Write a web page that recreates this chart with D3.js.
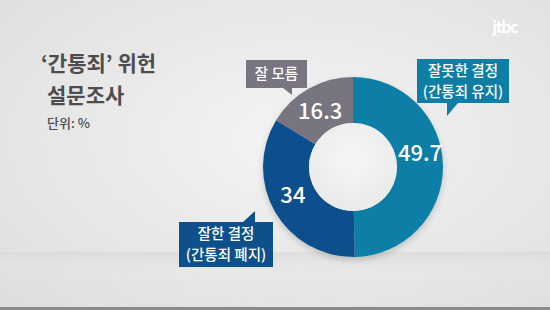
<!DOCTYPE html>
<html>
<head>
<meta charset="utf-8">
<script src="https://cdn.jsdelivr.net/npm/d3@7"></script>
<style>
  body { margin: 0; background: #e8e8e8; }
  svg { display: block; font-family: "Noto Sans CJK KR", "Noto Sans", sans-serif; }
</style>
</head>
<body>
<svg id="chart"></svg>
<script>
// survey result values (%), clockwise from 12 o'clock
const categories = ["잘못한 결정 (간통죄 유지)", "잘한 결정 (간통죄 폐지)", "잘 모름"];
const values = [49.7, 34, 16.3];
const valueLabels = ["49.7", "34", "16.3"];
const calloutLines = [
  ["잘못한 결정", "(간통죄 유지)"],
  ["잘한 결정", "(간통죄 폐지)"],
  ["잘 모름"]
];
const colors = ["#0e7ea5", "#0d508c", "#787480"];
const titleLines = ["‘간통죄’ 위헌", "설문조사"];
const unitLabel = "단위: %";

const width = 550;
const height = 310;
const cx = 353;
const cy = 167;
const outerR = 90;
const innerR = 44;

const svg = d3.select("#chart").attr("width", width).attr("height", height);
const defs = svg.append("defs");

// studio-like grey backdrop
const bg = defs.append("radialGradient").attr("id", "bg")
  .attr("cx", "55%").attr("cy", "45%").attr("r", "75%");
bg.append("stop").attr("offset", "0%").attr("stop-color", "#f4f4f4");
bg.append("stop").attr("offset", "100%").attr("stop-color", "#dedede");
svg.append("rect").attr("width", width).attr("height", height).attr("fill", "url(#bg)");

const floor = defs.append("linearGradient").attr("id", "floor")
  .attr("x1", 0).attr("y1", 0).attr("x2", 0).attr("y2", 1);
floor.append("stop").attr("offset", "0%").attr("stop-color", "#d8d8d8").attr("stop-opacity", 0.7);
floor.append("stop").attr("offset", "100%").attr("stop-color", "#f0f0f0").attr("stop-opacity", 0);
svg.append("rect").attr("x", 0).attr("y", 252).attr("width", width).attr("height", 30)
  .attr("fill", "url(#floor)");
svg.append("rect").attr("x", 0).attr("y", 307).attr("width", width).attr("height", 3)
  .attr("fill", "#8a8a8a");

const shadow = defs.append("filter").attr("id", "shadow")
  .attr("x", "-20%").attr("y", "-20%").attr("width", "140%").attr("height", "140%");
shadow.append("feDropShadow").attr("dx", 0).attr("dy", 3).attr("stdDeviation", 3)
  .attr("flood-color", "#000").attr("flood-opacity", 0.18);

// title block
const title = svg.append("g").attr("fill", "#4d4d4d");
title.append("text").attr("x", 41).attr("y", 71).attr("font-size", 21).attr("font-weight", 700)
  .text(titleLines[0]);
title.append("text").attr("x", 47).attr("y", 103).attr("font-size", 21).attr("font-weight", 700)
  .text(titleLines[1]);
title.append("text").attr("x", 47).attr("y", 128).attr("font-size", 13).attr("font-weight", 500)
  .text(unitLabel);

// jtbc mark
svg.append("text").attr("x", 505).attr("y", 33).attr("text-anchor", "middle")
  .attr("font-family", "Lato, 'DejaVu Sans', sans-serif").attr("font-weight", 900)
  .attr("font-size", 17).attr("fill", "#fff").attr("letter-spacing", -1).text("jtbc");

// donut
const pie = d3.pie().sort(null).value((d) => d);
const arcs = pie(values);
const arc = d3.arc().innerRadius(innerR).outerRadius(outerR);

const donut = svg.append("g").attr("transform", `translate(${cx},${cy})`);
donut.append("g").attr("filter", "url(#shadow)")
  .selectAll("path")
  .data(arcs)
  .join("path")
  .attr("d", arc)
  .attr("fill", (d, i) => colors[i]);

const hole = defs.append("radialGradient").attr("id", "hole")
  .attr("cx", "50%").attr("cy", "40%").attr("r", "60%");
hole.append("stop").attr("offset", "0%").attr("stop-color", "#f6f6f6");
hole.append("stop").attr("offset", "100%").attr("stop-color", "#eaeaea");
donut.append("circle").attr("r", innerR).attr("fill", "url(#hole)");

// value labels sit at the arc centroid, nudged a little as in the source
const labelArc = d3.arc().innerRadius(67).outerRadius(67);
const nudges = [[0, -13], [-2, -5], [0, 2]];
donut.selectAll("text.value")
  .data(arcs)
  .join("text")
  .attr("class", "value")
  .attr("transform", (d, i) => {
    const [x, y] = labelArc.centroid(d);
    return `translate(${x + nudges[i][0]},${y + nudges[i][1]})`;
  })
  .attr("text-anchor", "middle")
  .attr("dy", "0.36em")
  .attr("font-size", 22)
  .attr("font-weight", 500)
  .attr("fill", "#fff")
  .text((d, i) => valueLabels[i]);

// speech-bubble callouts: box + tail, relative to donut centre
const callouts = [
  { x: 64, y: -108, w: 92, h: 44, tail: [[30, 44], [41, 44], [30, 57]] },
  { x: -174, y: 55, w: 94, h: 45, tail: [[64, 0], [76, 0], [76, -11]] },
  { x: -107, y: -107, w: 61, h: 28, tail: [[37, 28], [46, 28], [46, 35]] }
];

const bubbles = donut.selectAll("g.callout")
  .data(callouts)
  .join("g")
  .attr("class", "callout")
  .attr("transform", (d) => `translate(${d.x},${d.y})`);

bubbles.append("rect")
  .attr("width", (d) => d.w)
  .attr("height", (d) => d.h)
  .attr("fill", (d, i) => colors[i]);

bubbles.append("path")
  .attr("d", (d) => d3.line()(d.tail) + "Z")
  .attr("fill", (d, i) => colors[i]);

bubbles.each(function (d, i) {
  const lines = calloutLines[i];
  const g = d3.select(this);
  const lineH = 21;
  const top = d.h / 2 - (lines.length - 1) * lineH / 2;
  lines.forEach((line, j) => {
    g.append("text")
      .attr("x", d.w / 2)
      .attr("y", top + j * lineH)
      .attr("dy", "0.36em")
      .attr("text-anchor", "middle")
      .attr("font-size", 14.5)
      .attr("font-weight", 500)
      .attr("fill", "#fff")
      .text(line);
  });
});
</script>
</body>
</html>
